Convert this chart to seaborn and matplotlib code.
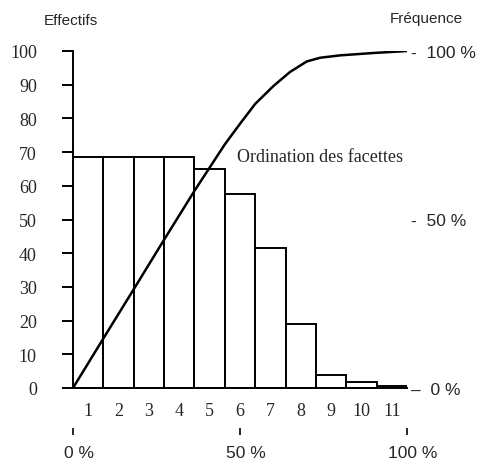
import matplotlib
matplotlib.use("Agg")
import matplotlib.pyplot as plt
import matplotlib.transforms as mtransforms
import seaborn as sns
import pandas as pd

categories = ["1", "2", "3", "4", "5", "6", "7", "8", "9", "10", "11"]
effectifs = [68.5, 68.5, 68.5, 68.5, 65.0, 57.5, 41.5, 19.0, 4.0, 1.7, 0.6]
# cumulative frequency (%) (x in bar units)
freq_pos = [-0.5, 0.5, 1.5, 2.5, 3.5, 4.5, 5.0, 5.5, 6.1, 6.65, 7.2, 7.64, 8.29, 9.38, 10.5]
frequence = [0, 14.7, 29.3, 44.0, 58.5, 72.3, 78.4, 84.3, 89.6, 93.8, 96.9, 98.0, 98.7, 99.4, 100]
left_ticks = [0, 10, 20, 30, 40, 50, 60, 70, 80, 90, 100]
pct_ticks = [0, 50, 100]
pct_labels = ["0 %", "50 %", "100 %"]

sns.set_theme(style="ticks")
serif = ["Liberation Serif", "DejaVu Serif"]
sans = ["Liberation Sans", "DejaVu Sans"]
plt.rcParams["font.family"] = serif

fig = plt.figure(figsize=(4.8, 4.64), dpi=100)
ax = fig.add_axes([73 / 480, 1 - 389 / 464, (407 - 73) / 480, (389 - 52) / 464])

df = pd.DataFrame({"cat": categories, "eff": effectifs})
sns.barplot(data=df, x="cat", y="eff", ax=ax, color="white", edgecolor="black",
            linewidth=1.4, width=1.0, saturation=1)
ax.set_xlim(-0.5, 10.5)
ax.set_ylim(0, 100)
ax.set_xlabel("")
ax.set_ylabel("")
ax.set_yticks(left_ticks)
ax.set_yticklabels([str(t) for t in left_ticks], fontsize=13, family=serif)
ax.set_xticks(range(len(categories)))
ax.set_xticklabels(categories, fontsize=13, family=serif)
ax.tick_params(axis="y", direction="out", length=8, width=1.4, color="black",
               pad=18, left=True)
ax.tick_params(axis="x", length=0, pad=10)
for s in ["top", "right"]:
    ax.spines[s].set_visible(False)
for s in ["left", "bottom"]:
    ax.spines[s].set_color("black")
    ax.spines[s].set_linewidth(1.4)

ax2 = ax.twinx()
sns.lineplot(x=freq_pos, y=frequence, ax=ax2, color="black", linewidth=1.8)
ax2.set_ylim(0, 99.1)
ax2.set_xlim(-0.5, 10.5)
ax2.set_yticks([0, 50, 100])
ax2.set_yticklabels(["\u2013  0 %", "-  50 %", "-  100 %"], fontsize=12.5, family=sans)
ax2.tick_params(axis="y", length=0, pad=3, right=True, left=False)
for s in ax2.spines.values():
    s.set_visible(False)

# bottom percentage scale
ax3 = ax.twiny()
ax3.set_xlim(0, 100)
ax3.xaxis.set_ticks_position("bottom")
ax3.xaxis.set_label_position("bottom")
ax3.spines["bottom"].set_position(("axes", -0.12))
for s in ax3.spines.values():
    s.set_visible(False)
ax3.set_xticks(pct_ticks)
ax3.set_xticklabels(pct_labels, fontsize=12.5, family=sans)
ax3.tick_params(axis="x", which="major", direction="out", bottom=True, top=False,
                length=5, width=1.2, color="black", pad=7)
shift = mtransforms.ScaledTranslation(6 / 100, 0, fig.dpi_scale_trans)
for lab in ax3.get_xticklabels():
    lab.set_transform(lab.get_transform() + shift)

fig.text(71 / 480, 1 - 21 / 464, "Effectifs", fontsize=11, family=sans,
         ha="center", va="center")
fig.text(426 / 480, 1 - 19 / 464, "Fréquence", fontsize=11, family=sans,
         ha="center", va="center")
fig.text(237 / 480, 1 - 158 / 464, "Ordination des facettes", fontsize=13,
         family=serif, ha="left", va="center")

fig.savefig("out.png", dpi=100)
